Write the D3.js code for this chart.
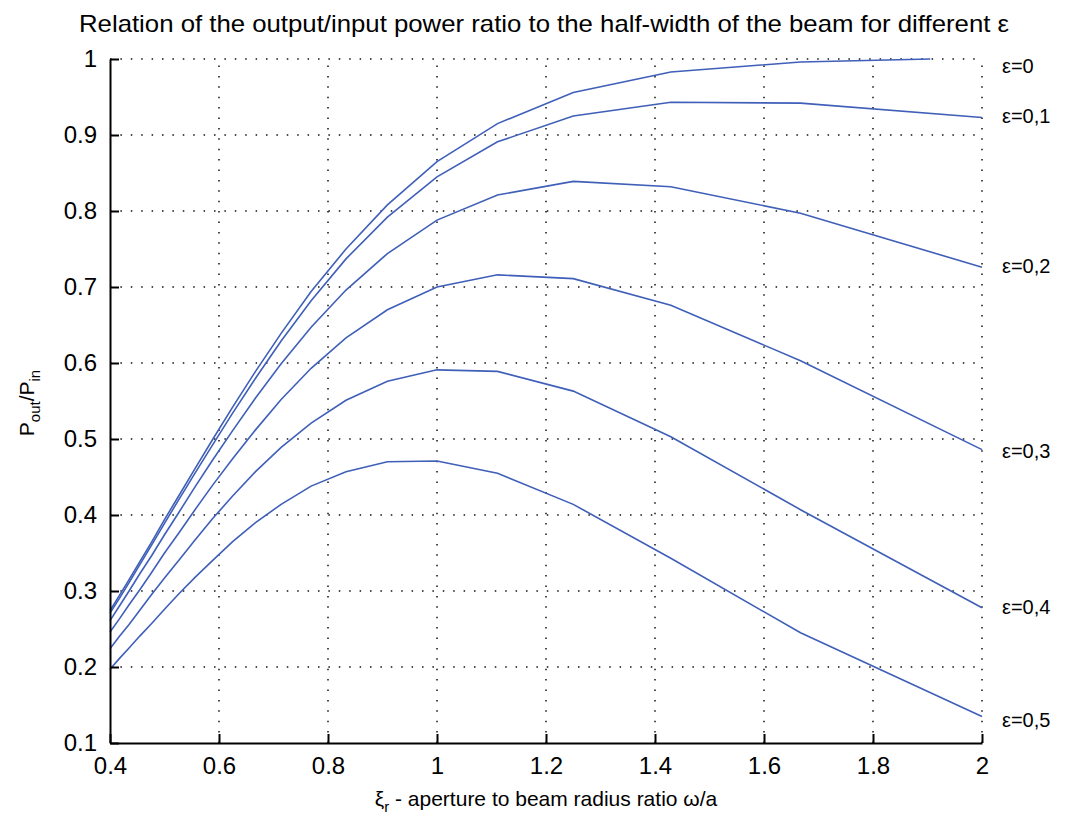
<!DOCTYPE html>
<html>
<head>
<meta charset="utf-8">
<script src="https://cdn.jsdelivr.net/npm/d3@7/dist/d3.min.js"></script>
<style>
  body { margin: 0; background: #fff; }
  text { font-family: "Liberation Sans", Arial, sans-serif; fill: #000; }
</style>
</head>
<body>
<svg id="chart" width="1068" height="822"></svg>
<script>
// aperture-to-beam-radius ratio samples
const xi = [0.4, 0.417, 0.435, 0.455, 0.476, 0.5, 0.526, 0.556, 0.588, 0.625, 0.667,
            0.714, 0.769, 0.833, 0.909, 1.0, 1.111, 1.25, 1.429, 1.667, 2.0];
// the unobstructed curve stops just short of the right edge
const xiTop = [0.4, 0.417, 0.435, 0.455, 0.476, 0.5, 0.526, 0.556, 0.588, 0.625, 0.667,
               0.714, 0.769, 0.833, 0.909, 1.0, 1.111, 1.25, 1.429, 1.667, 1.905];

// P_out / P_in for each obstruction ratio
const eps00 = [0.274, 0.294, 0.315, 0.339, 0.364, 0.394, 0.425, 0.461, 0.499, 0.542, 0.589,
               0.639, 0.694, 0.750, 0.808, 0.865, 0.915, 0.956, 0.983, 0.996, 1.000];
const eps01 = [0.271, 0.290, 0.311, 0.335, 0.360, 0.389, 0.420, 0.455, 0.492, 0.534, 0.580,
               0.629, 0.682, 0.737, 0.792, 0.845, 0.891, 0.925, 0.943, 0.942, 0.923];
const eps02 = [0.261, 0.280, 0.300, 0.323, 0.346, 0.374, 0.403, 0.437, 0.472, 0.511, 0.554,
               0.599, 0.647, 0.696, 0.744, 0.788, 0.821, 0.839, 0.832, 0.797, 0.726];
const eps03 = [0.246, 0.263, 0.282, 0.302, 0.324, 0.350, 0.376, 0.407, 0.439, 0.474, 0.512,
               0.552, 0.593, 0.633, 0.670, 0.700, 0.716, 0.711, 0.676, 0.603, 0.486];
const eps04 = [0.224, 0.240, 0.256, 0.275, 0.295, 0.317, 0.340, 0.367, 0.395, 0.425, 0.457,
               0.489, 0.521, 0.551, 0.576, 0.591, 0.589, 0.563, 0.503, 0.407, 0.278];
const eps05 = [0.197, 0.211, 0.225, 0.241, 0.257, 0.276, 0.296, 0.318, 0.340, 0.365, 0.390,
               0.414, 0.438, 0.457, 0.470, 0.471, 0.455, 0.414, 0.343, 0.245, 0.135];

const seriesNames = ["ε=0", "ε=0,1", "ε=0,2", "ε=0,3", "ε=0,4", "ε=0,5"];
const labelLevels = [0.991, 0.925, 0.727, 0.484, 0.279, 0.130];

const xTicks = [0.4, 0.6, 0.8, 1.0, 1.2, 1.4, 1.6, 1.8, 2.0];
const xTickLabels = ["0.4", "0.6", "0.8", "1", "1.2", "1.4", "1.6", "1.8", "2"];
const yTicks = [0.1, 0.2, 0.3, 0.4, 0.5, 0.6, 0.7, 0.8, 0.9, 1.0];
const yTickLabels = ["0.1", "0.2", "0.3", "0.4", "0.5", "0.6", "0.7", "0.8", "0.9", "1"];

const svg = d3.select("#chart");
svg.append("rect").attr("width", 1068).attr("height", 822).attr("fill", "#fff");

const plotLeft = 110, plotRight = 982, plotTop = 59, plotBottom = 743;
const x = d3.scaleLinear().domain([0.4, 2]).range([plotLeft, plotRight]);
const y = d3.scaleLinear().domain([0.1, 1]).range([plotBottom, plotTop]);

// dotted grid
const grid = svg.append("g").attr("stroke", "#111").attr("stroke-width", 1.5)
  .attr("stroke-dasharray", "1.5 8.9").attr("fill", "none");
xTicks.slice(1).forEach(t => {
  grid.append("line").attr("x1", x(t)).attr("x2", x(t)).attr("y1", plotBottom).attr("y2", plotTop);
});
yTicks.slice(1).forEach(t => {
  grid.append("line").attr("x1", plotLeft).attr("x2", plotRight).attr("y1", y(t)).attr("y2", y(t));
});

// curves
const curves = [
  { xs: xiTop, ys: eps00 },
  { xs: xi, ys: eps01 },
  { xs: xi, ys: eps02 },
  { xs: xi, ys: eps03 },
  { xs: xi, ys: eps04 },
  { xs: xi, ys: eps05 }
];
const line = d3.line().x(d => x(d[0])).y(d => y(d[1]));
svg.append("g").selectAll("path").data(curves).join("path")
  .attr("d", c => line(c.xs.map((v, i) => [v, c.ys[i]])))
  .attr("fill", "none").attr("stroke", "#3f5fb8").attr("stroke-width", 1.6);

// axes with inward ticks
const xAxis = d3.axisBottom(x).tickValues(xTicks)
  .tickFormat((d, i) => xTickLabels[i]).tickSizeInner(-9).tickSizeOuter(0).tickPadding(14);
const yAxis = d3.axisLeft(y).tickValues(yTicks)
  .tickFormat((d, i) => yTickLabels[i]).tickSizeInner(-9).tickSizeOuter(0).tickPadding(13);

const gx = svg.append("g").attr("transform", `translate(0,${plotBottom})`).call(xAxis);
const gy = svg.append("g").attr("transform", `translate(${plotLeft},0)`).call(yAxis);
[gx, gy].forEach(g => {
  g.select(".domain").attr("stroke", "#000").attr("stroke-width", 2);
  g.selectAll(".tick line").attr("stroke", "#000").attr("stroke-width", 2);
  g.selectAll(".tick text").attr("font-size", 24)
    .attr("font-family", "Liberation Sans, Arial, sans-serif").attr("fill", "#222");
});

// curve labels at the right edge
svg.append("g").selectAll("text").data(seriesNames).join("text")
  .attr("x", 1002).attr("y", (d, i) => y(labelLevels[i]))
  .attr("dy", "0.35em").attr("font-size", 20).text(d => d);

// title
svg.append("text").attr("x", 544).attr("y", 32).attr("text-anchor", "middle")
  .attr("font-family", "'Liberation Sans Narrow', 'Liberation Sans', Arial, sans-serif")
  .attr("font-size", 24).attr("textLength", 930).attr("lengthAdjust", "spacingAndGlyphs")
  .text("Relation of the output/input power ratio to the half-width of the beam for different ε");

// x label: ξ with subscript r
const xl = svg.append("text").attr("x", 546).attr("y", 806).attr("text-anchor", "middle")
  .attr("font-size", 21);
xl.append("tspan").text("ξ");
xl.append("tspan").attr("font-size", 15).attr("dy", 6).text("r");
xl.append("tspan").attr("dy", -6).text(" - aperture to beam radius ratio ω/a");

// y label: P_out / P_in
const yl = svg.append("text").attr("transform", "translate(34,403) rotate(-90)")
  .attr("text-anchor", "middle").attr("font-size", 21);
yl.append("tspan").text("P");
yl.append("tspan").attr("font-size", 15).attr("dy", 6).text("out");
yl.append("tspan").attr("dy", -6).text("/P");
yl.append("tspan").attr("font-size", 15).attr("dy", 6).text("in");
</script>
</body>
</html>
